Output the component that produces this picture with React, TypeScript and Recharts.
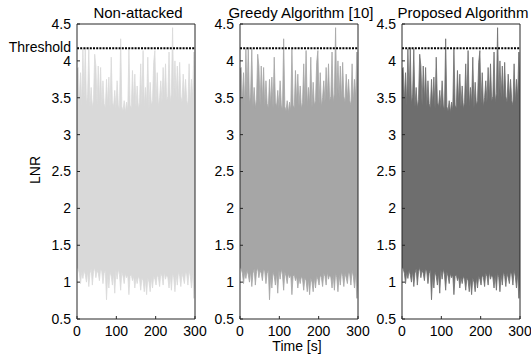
import { ComposedChart, Area, XAxis, YAxis, ReferenceLine } from 'recharts'

// LNR envelope per 3 s sample window (upper / lower extremes), same pattern in all panels
const hi = [
  3.88, 3.91, 3.45, 3.84, 3.40, 4.16, 3.50, 4.18, 3.42, 3.55,
  4.16, 3.38, 3.64, 3.36, 3.48, 4.09, 3.93, 3.40, 3.93, 3.45,
  3.91, 3.38, 3.73, 3.42, 3.36, 3.75, 3.40, 3.78, 3.35, 4.05,
  3.44, 3.38, 3.60, 3.36, 3.73, 3.40, 3.34, 4.30, 3.38, 3.32,
  3.46, 3.30, 3.44, 3.33, 4.16, 3.40, 3.36, 3.87, 3.42, 3.82,
  3.38, 3.66, 3.35, 3.44, 3.96, 3.40, 4.14, 3.38, 3.64, 3.42,
  4.05, 3.36, 3.71, 3.40, 3.46, 3.98, 4.14, 3.42, 3.84, 3.38,
  3.50, 3.73, 3.44, 3.91, 3.48, 3.96, 3.46, 3.52, 4.12, 3.44,
  3.56, 4.45, 3.48, 4.00, 3.50, 3.93, 3.46, 3.98, 3.52, 3.44,
  3.82, 3.48, 3.75, 3.46, 3.40, 3.96, 3.44, 3.75, 3.50, 4.12,
  3.60,
]
const lo = [
  1.20, 1.18, 1.12, 0.98, 1.14, 1.05, 1.16, 1.10, 1.00, 1.15,
  0.94, 1.12, 1.18, 0.96, 1.14, 1.20, 1.06, 1.16, 1.12, 1.02,
  1.18, 1.14, 0.98, 1.12, 1.16, 0.76, 1.10, 0.92, 1.14, 1.08,
  0.96, 1.12, 0.85, 1.16, 1.04, 1.18, 1.10, 0.89, 1.14, 1.08,
  0.98, 1.12, 1.06, 1.10, 0.83, 1.08, 1.10, 1.02, 1.08, 0.92,
  1.06, 0.98, 1.08, 1.04, 0.89, 1.06, 1.02, 0.87, 1.04, 0.83,
  1.06, 1.00, 0.87, 1.06, 0.92, 1.08, 1.04, 0.96, 1.10, 1.06,
  0.94, 1.12, 1.08, 0.96, 1.14, 1.04, 1.10, 1.06, 0.92, 1.10,
  0.89, 1.12, 1.06, 0.87, 1.10, 0.96, 1.14, 1.08, 0.94, 1.12,
  1.06, 0.98, 1.14, 1.10, 0.96, 1.16, 1.08, 0.92, 1.12, 0.78,
  1.10,
]
const sampleStep = 3

const titles = ['Non-attacked', 'Greedy Algorithm [10]', 'Proposed Algorithm']
const fills = ['#d9d9d9', '#a6a6a6', '#6e6e6e']
const plotLefts = [77, 240, 402]
const yTicks = [0.5, 1, 1.5, 2, 2.5, 3, 3.5, 4, 4.5]
const xTicks = [0, 100, 200, 300]
const threshold = 4.17

const rows = hi.map((h, i) => ({ t: i * sampleStep, range: [lo[i], h] }))

const FONT = '"Liberation Sans", Arial, Helvetica, sans-serif'
const INK = '#262626'
const AXIS_W = 45
const PLOT_W = 118
const RIGHT_PAD = 20

function Panel({ idx }: { idx: number }) {
  const tickStyle = { fontSize: 14, fill: '#000', fontFamily: FONT }
  return (
    <div style={{ position: 'absolute', left: plotLefts[idx] - AXIS_W, top: 0 }}>
      <ComposedChart
        width={AXIS_W + PLOT_W + 1 + RIGHT_PAD}
        height={360}
        data={rows}
        margin={{ top: 23, right: RIGHT_PAD, left: 0, bottom: 11 }}
      >
        <XAxis
          dataKey="t" type="number" domain={[0, 300]} ticks={xTicks} allowDataOverflow
          height={30} tickSize={-3} tickMargin={10} interval={0}
          tick={tickStyle} axisLine={{ stroke: INK }} tickLine={{ stroke: INK }}
        />
        <XAxis
          xAxisId="top" orientation="top" dataKey="t" type="number" domain={[0, 300]} ticks={xTicks}
          allowDataOverflow height={1} tickSize={-3} tick={false}
          axisLine={{ stroke: INK }} tickLine={{ stroke: INK }}
        />
        <YAxis
          type="number" domain={[0.5, 4.5]} ticks={yTicks} allowDataOverflow interval={0}
          width={AXIS_W} tickSize={-3} tickMargin={9}
          tick={tickStyle} axisLine={{ stroke: INK }} tickLine={{ stroke: INK }}
        />
        <YAxis
          yAxisId="r" orientation="right" type="number" domain={[0.5, 4.5]} ticks={yTicks}
          allowDataOverflow width={1} tickSize={-3} tick={false}
          axisLine={{ stroke: INK }} tickLine={{ stroke: INK }}
        />
        <Area
          type="linear" dataKey="range" fill={fills[idx]} fillOpacity={1}
          stroke={fills[idx]} strokeWidth={0.8} dot={false} activeDot={false}
          isAnimationActive={false}
        />
        <ReferenceLine y={threshold} stroke="#000" strokeWidth={2} strokeDasharray="2 1.2" />
      </ComposedChart>
    </div>
  )
}

export default function App() {
  return (
    <div style={{ position: 'absolute', left: 0, top: 0, width: 531, height: 360, background: '#fff', fontFamily: FONT, overflow: 'hidden' }}>
      {titles.map((_, i) => <Panel key={i} idx={i} />)}
      <svg width={531} height={360} style={{ position: 'absolute', left: 0, top: 0, pointerEvents: 'none' }}>
        {titles.map((t, i) => (
          <text key={t} x={plotLefts[i] + PLOT_W / 2 + 2} y={18} textAnchor="middle" fontSize={15} fontFamily={FONT} fill="#000">
            {t}
          </text>
        ))}
        <text x={71} y={52} textAnchor="end" fontSize={14} fontFamily={FONT} fill="#000">Threshold</text>
        <text transform="translate(40,170) rotate(-90)" textAnchor="middle" fontSize={14} fontFamily={FONT} fill="#000">LNR</text>
        <text x={297} y={351} textAnchor="middle" fontSize={14} fontFamily={FONT} fill="#000">Time [s]</text>
      </svg>
    </div>
  )
}
